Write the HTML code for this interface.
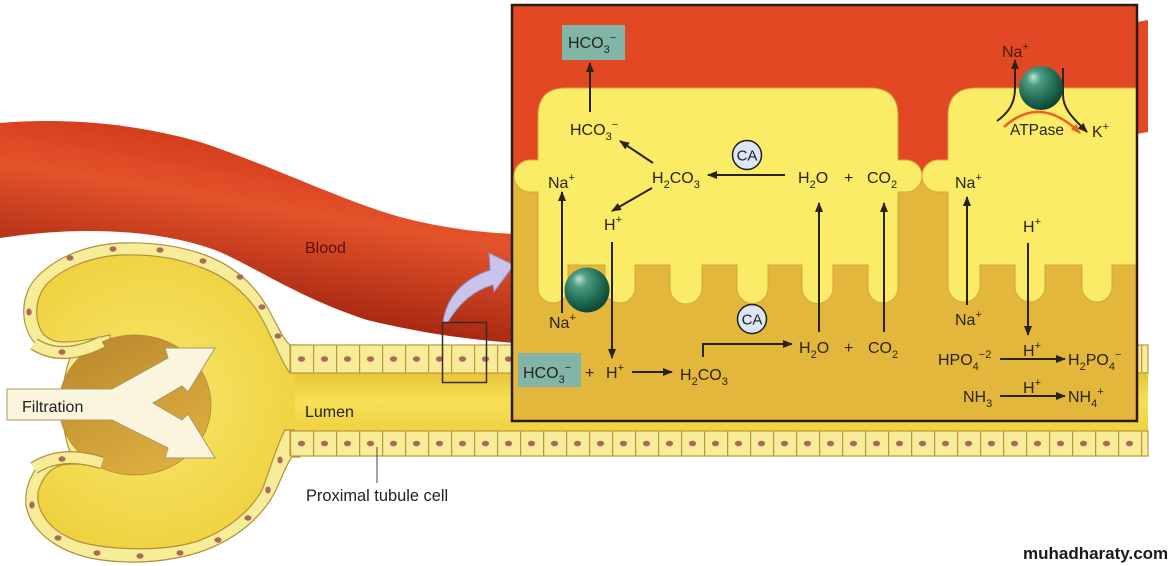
<!DOCTYPE html>
<html><head><meta charset="utf-8"><style>
html,body{margin:0;padding:0;background:#fff;}
svg{display:block;}
text{font-family:"Liberation Sans",Arial,sans-serif;}
</style></head><body>
<svg width="1172" height="566" viewBox="0 0 1172 566" xmlns="http://www.w3.org/2000/svg">
<defs>
<linearGradient id="vg" gradientUnits="userSpaceOnUse" x1="250" y1="150" x2="225" y2="300">
<stop offset="0" stop-color="#d43e1d"/><stop offset="0.35" stop-color="#e4532b"/><stop offset="1" stop-color="#a82812"/></linearGradient>
<radialGradient id="cl" cx="150" cy="400" r="170" gradientUnits="userSpaceOnUse">
<stop offset="0" stop-color="#f8e86e"/><stop offset="1" stop-color="#eed03c"/></radialGradient>
<linearGradient id="lum" x1="0" y1="0" x2="0" y2="1">
<stop offset="0" stop-color="#e8c636"/><stop offset="0.5" stop-color="#f6e058"/><stop offset="1" stop-color="#efd040"/></linearGradient>
<linearGradient id="ball" x1="0" y1="0" x2="0.6" y2="1">
<stop offset="0" stop-color="#b9852b"/><stop offset="1" stop-color="#dcae40"/></linearGradient>
<radialGradient id="sph" cx="0.4" cy="0.35" r="0.65" fx="0.32" fy="0.25">
<stop offset="0" stop-color="#bfe4d4"/><stop offset="0.25" stop-color="#4f9c84"/><stop offset="0.7" stop-color="#1e6a52"/><stop offset="1" stop-color="#0e4636"/></radialGradient>
<pattern id="pt" x="290" y="345" width="23" height="28" patternUnits="userSpaceOnUse">
<rect width="23" height="28" fill="#f8ec98"/><line x1="0.6" y1="0" x2="0.6" y2="28" stroke="#b8983e" stroke-width="1.2"/>
<ellipse cx="11.5" cy="14" rx="3.6" ry="2.8" fill="#a86a5c"/></pattern>
<pattern id="pb" x="290" y="431" width="23" height="25" patternUnits="userSpaceOnUse">
<rect width="23" height="25" fill="#f8ec98"/><line x1="0.6" y1="0" x2="0.6" y2="25" stroke="#b8983e" stroke-width="1.2"/>
<ellipse cx="11.5" cy="12.5" rx="3.6" ry="2.8" fill="#a86a5c"/></pattern>
<marker id="ah" markerWidth="10" markerHeight="8" refX="9" refY="4" orient="auto" markerUnits="userSpaceOnUse">
<path d="M0,0 L10,4 L0,8 Z" fill="#2b2216"/></marker>
<marker id="ao" markerWidth="10" markerHeight="8" refX="9" refY="4" orient="auto" markerUnits="userSpaceOnUse">
<path d="M0,0 L10,4 L0,8 Z" fill="#e8602a"/></marker>
</defs>

<rect width="1172" height="566" fill="#fff"/>

<!-- blood vessel -->
<path d="M0,123 C60,118 130,122 200,142 C270,165 340,200 400,217 C450,230 490,233 516,234 L516,343 C470,340 420,333 367,320 C300,298 260,270 220,252 C170,232 90,224 0,238 Z" fill="url(#vg)"/>
<path d="M1137,22 L1148,20 L1148,132 L1137,134 Z" fill="#e04a22"/>

<!-- capsule -->
<path d="M300,345 L290,345 C282,338 276,322 266,305 C252,282 232,265 205,255 C180,246 150,242 120,243 C85,245 55,258 36,278 C20,296 20,325 34,342 C38,347 42,350 46,352 L70,358 C60,385 60,425 70,452 L46,458 C34,468 24,485 26,505 C30,530 55,550 90,558 C125,565 165,563 200,552 C235,540 262,518 276,490 C283,475 286,465 292,457 L300,457 Z" fill="#f7ec98" stroke="#b0903c" stroke-width="1.2"/>
<path d="M300,373 L290,373 C280,360 272,335 258,312 C245,292 225,276 200,267 C175,257 148,254 120,255 C90,257 62,268 46,285 C34,300 34,322 44,335 C50,340 56,342 62,342 C80,342 95,338 110,335 L110,470 C95,466 80,462 62,465 C50,468 42,478 38,492 C36,512 50,532 80,542 C110,550 160,552 195,542 C225,532 250,512 262,490 C270,470 276,447 285,430 L300,430 Z" fill="url(#cl)" stroke="#b0903c" stroke-width="1.2"/>

<!-- tubule -->
<rect x="295" y="373" width="853" height="58" fill="url(#lum)"/>
<rect x="290" y="345" width="858" height="28" fill="url(#pt)" stroke="#b8983e" stroke-width="1.2"/>
<rect x="290" y="431" width="858" height="25" fill="url(#pb)" stroke="#b8983e" stroke-width="1.2"/>

<!-- glomerulus -->
<ellipse cx="135" cy="405" rx="76" ry="70" fill="url(#ball)" stroke="#b58632" stroke-width="0.8"/>
<path d="M34,344 Q62,362 102,342" fill="none" stroke="#b0903c" stroke-width="13"/>
<path d="M34,344 Q62,362 102,342" fill="none" stroke="#f7ec98" stroke-width="10.5"/>
<path d="M34,468 Q62,450 102,463" fill="none" stroke="#b0903c" stroke-width="13"/>
<path d="M34,468 Q62,450 102,463" fill="none" stroke="#f7ec98" stroke-width="10.5"/>

<g fill="#a86a5c">
<ellipse cx="62" cy="352" rx="3.5" ry="2.7"/><ellipse cx="62" cy="459" rx="3.5" ry="2.7"/>
<ellipse cx="113" cy="249" rx="3.5" ry="2.7"/><ellipse cx="160" cy="250" rx="3.5" ry="2.7"/>
<ellipse cx="203" cy="261" rx="3.5" ry="2.7"/><ellipse cx="240" cy="277" rx="3.5" ry="2.7"/>
<ellipse cx="262" cy="307" rx="3.5" ry="2.7"/><ellipse cx="278" cy="336" rx="3.5" ry="2.7"/>
<ellipse cx="70" cy="258" rx="3.5" ry="2.7"/><ellipse cx="29" cy="312" rx="2.7" ry="3.5"/>
<ellipse cx="32" cy="505" rx="2.7" ry="3.5"/><ellipse cx="58" cy="538" rx="3.5" ry="2.7"/>
<ellipse cx="97" cy="553" rx="3.5" ry="2.7"/><ellipse cx="140" cy="556" rx="3.5" ry="2.7"/>
<ellipse cx="180" cy="553" rx="3.5" ry="2.7"/><ellipse cx="218" cy="540" rx="3.5" ry="2.7"/>
<ellipse cx="248" cy="518" rx="3.5" ry="2.7"/><ellipse cx="268" cy="490" rx="2.7" ry="3.5"/>
<ellipse cx="280" cy="460" rx="2.7" ry="3.5"/>
</g>

<!-- filtration arrow -->
<polygon points="7,389 112,389 168,358 165,348 215,348 188,392 182,386 153,403 182,420 188,414 215,458 165,458 168,448 112,420 7,420" fill="#fbf5de" stroke="#a89868" stroke-width="1"/>
<text x="22" y="412" font-size="16" fill="#222">Filtration</text>

<!-- purple arrow and small box -->
<path d="M443,322 C446,300 460,280 490,270 L489,253 L514,265 L494,292 L493,285 C475,290 460,302 448,322 Z" fill="#c9c3ea" stroke="#8f88c0" stroke-width="1"/>
<rect x="442.5" y="322.5" width="44" height="60" fill="none" stroke="#3a2a20" stroke-width="1.5"/>

<!-- labels -->
<text x="305" y="253" font-size="16" fill="#5c0e0a">Blood</text>
<text x="305" y="417" font-size="16" fill="#222">Lumen</text>
<line x1="377" y1="447" x2="377" y2="483" stroke="#444" stroke-width="1"/>
<text x="306" y="501" font-size="16.4" fill="#222">Proximal tubule cell</text>

<!-- INSET -->
<rect x="511" y="4" width="626" height="417" fill="#e3b73b"/>
<rect x="511" y="4" width="626" height="172" fill="#e24824"/>
<path d="M566,88 L870,88 Q898,88 898,116 L898,160 L906,160 A16,16 0 0 1 906,192 L898,192 L898,288 A15,15 0 0 1 868,288 L868,265 L833,265 L833,288 A15.5,15.5 0 0 1 802,288 L802,265 L768,265 L768,288 A15.5,15.5 0 0 1 737,288 L737,265 L702,265 L702,288 A16,16 0 0 1 670,288 L670,265 L635,265 L635,288 A15,15 0 0 1 605,288 L605,265 L568,265 L568,288 A15,15 0 0 1 538,288 L538,192 L530,192 A16,16 0 0 1 530,160 L538,160 L538,116 Q538,88 566,88 Z" fill="#faec66" stroke="#d3a73a" stroke-width="1"/>
<path d="M976,88 L1137,88 L1137,265 L1112,265 L1112,287 A15,15 0 0 1 1082,287 L1082,265 L1045,265 L1045,287 A15,15 0 0 1 1015,287 L1015,265 L980,265 L980,286 A16,16 0 0 1 948,286 L948,192 L938,192 A16,16 0 0 1 938,160 L948,160 L948,116 Q948,88 976,88 Z" fill="#faec66" stroke="#d3a73a" stroke-width="1"/>

<!-- teal boxes -->
<rect x="562" y="25" width="63" height="35" fill="#80b5a8"/>
<rect x="518" y="353" width="63" height="34" fill="#80b5a8"/>

<!-- arrows -->
<g stroke="#2b2216" stroke-width="2" fill="none" marker-end="url(#ah)">
<line x1="590" y1="112" x2="590" y2="63"/>
<line x1="653" y1="163" x2="620" y2="141"/>
<line x1="652" y1="188" x2="612" y2="211"/>
<line x1="785" y1="175" x2="708" y2="175"/>
<line x1="562" y1="313" x2="562" y2="192"/>
<line x1="612" y1="242" x2="612" y2="358"/>
<line x1="819" y1="332" x2="819" y2="203"/>
<line x1="884" y1="332" x2="884" y2="203"/>
<line x1="632" y1="372" x2="672" y2="372"/>
<path d="M703,357 L703,344 L792,344"/>
<line x1="967" y1="305" x2="967" y2="197"/>
<line x1="1028" y1="243" x2="1028" y2="335"/>
<line x1="1000" y1="359" x2="1065" y2="359"/>
<line x1="1000" y1="396" x2="1065" y2="396"/>
<path d="M997,121 C1008,113 1015,104 1015,88 L1015,60"/>
<path d="M1063,68 L1063,95 C1063,110 1075,120 1087,132"/>
</g>
<path d="M1004,127 Q1040,94 1080,133" fill="none" stroke="#e8602a" stroke-width="2.5" marker-end="url(#ao)"/>

<!-- spheres -->
<circle cx="587" cy="290" r="22.5" fill="url(#sph)"/>
<circle cx="1041" cy="88" r="22" fill="url(#sph)"/>

<!-- CA -->
<circle cx="747" cy="155" r="14.5" fill="#dde6f6" stroke="#1e1e1e" stroke-width="1.5"/>
<text x="747" y="160.5" font-size="15" text-anchor="middle" fill="#1e1e1e">CA</text>
<circle cx="752" cy="319" r="14.5" fill="#dde6f6" stroke="#1e1e1e" stroke-width="1.5"/>
<text x="752" y="324.5" font-size="15" text-anchor="middle" fill="#1e1e1e">CA</text>

<!-- chemistry text -->
<g font-size="16" fill="#2b2216">
<text x="568" y="48">HCO<tspan dy="5" font-size="11">3</tspan><tspan dy="-12" font-size="11">−</tspan></text>
<text x="570" y="135">HCO<tspan dy="5" font-size="11">3</tspan><tspan dy="-12" font-size="11">−</tspan></text>
<text x="652" y="183">H<tspan dy="5" font-size="11">2</tspan><tspan dy="-5">CO</tspan><tspan dy="5" font-size="11">3</tspan></text>
<text x="548" y="188">Na<tspan dy="-7" font-size="11">+</tspan></text>
<text x="604" y="230">H<tspan dy="-7" font-size="11">+</tspan></text>
<text x="798" y="183">H<tspan dy="5" font-size="11">2</tspan><tspan dy="-5">O</tspan></text>
<text x="844" y="183">+</text>
<text x="867" y="183">CO<tspan dy="5" font-size="11">2</tspan></text>
<text x="549" y="328">Na<tspan dy="-7" font-size="11">+</tspan></text>
<text x="799" y="353">H<tspan dy="5" font-size="11">2</tspan><tspan dy="-5">O</tspan></text>
<text x="844" y="353">+</text>
<text x="868" y="353">CO<tspan dy="5" font-size="11">2</tspan></text>
<text x="523" y="378">HCO<tspan dy="5" font-size="11">3</tspan><tspan dy="-12" font-size="11">−</tspan></text>
<text x="585" y="378">+</text>
<text x="606" y="378">H<tspan dy="-7" font-size="11">+</tspan></text>
<text x="680" y="380">H<tspan dy="5" font-size="11">2</tspan><tspan dy="-5">CO</tspan><tspan dy="5" font-size="11">3</tspan></text>
<text x="1002" y="57" fill="#4a1a10">Na<tspan dy="-7" font-size="11">+</tspan></text>
<text x="1010" y="135" font-size="15.5">ATPase</text>
<text x="1092" y="137">K<tspan dy="-7" font-size="11">+</tspan></text>
<text x="955" y="188">Na<tspan dy="-7" font-size="11">+</tspan></text>
<text x="1023" y="232">H<tspan dy="-7" font-size="11">+</tspan></text>
<text x="955" y="325">Na<tspan dy="-7" font-size="11">+</tspan></text>
<text x="938" y="365">HPO<tspan dy="5" font-size="11">4</tspan><tspan dy="-12" font-size="11">−2</tspan></text>
<text x="1023" y="356">H<tspan dy="-7" font-size="11">+</tspan></text>
<text x="1068" y="365">H<tspan dy="5" font-size="11">2</tspan><tspan dy="-5">PO</tspan><tspan dy="5" font-size="11">4</tspan><tspan dy="-12" font-size="11">−</tspan></text>
<text x="963" y="402">NH<tspan dy="5" font-size="11">3</tspan></text>
<text x="1023" y="393">H<tspan dy="-7" font-size="11">+</tspan></text>
<text x="1068" y="402">NH<tspan dy="5" font-size="11">4</tspan><tspan dy="-12" font-size="11">+</tspan></text>
</g>

<!-- inset border -->
<rect x="512" y="5" width="625" height="416" fill="none" stroke="#2a1a10" stroke-width="2.5"/>

<!-- watermark -->
<text x="1023" y="559" font-size="17" font-weight="bold" fill="#1a1a1a">muhadharaty.com</text>
</svg>
</body></html>
